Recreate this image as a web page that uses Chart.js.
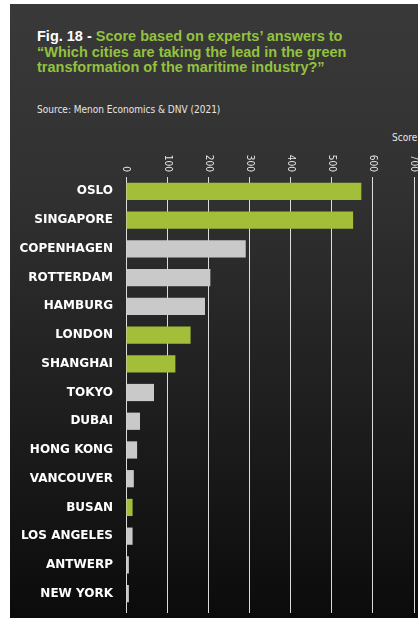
<!DOCTYPE html>
<html>
<head>
<meta charset="utf-8">
<script src="https://cdn.jsdelivr.net/npm/chart.js@4.4.1/dist/chart.umd.min.js"></script>
<style>
  html, body { margin: 0; padding: 0; background: #ffffff; }
  #wrap { position: relative; width: 418px; height: 621px; overflow: hidden; }
  #panel {
    position: absolute; left: 10px; top: 4px; width: 408px; height: 614px;
    background: linear-gradient(to bottom, #393939 0%, #313131 30%, #1c1c1c 70%, #0b0b0b 100%);
  }
  #title {
    position: absolute; left: 37px; top: 29px; margin: 0;
    font: bold 14.5px "Liberation Sans", Arial, sans-serif;
    line-height: 15.5px; color: #93c23e; white-space: nowrap;
  }
  #title .fig { color: #ffffff; }
  #source {
    position: absolute; left: 37px; top: 104px; margin: 0;
    font: 10px "DejaVu Sans Condensed", "Liberation Sans Narrow", sans-serif;
    color: #e6e6e6; white-space: nowrap;
  }
  #unit {
    position: absolute; left: 392px; top: 132px; margin: 0;
    font: 10px "DejaVu Sans Condensed", "Liberation Sans Narrow", sans-serif;
    color: #e6e6e6; white-space: nowrap;
  }
  canvas { position: absolute; left: 0; top: 0; }
</style>
</head>
<body>
<div id="wrap">
  <div id="panel"></div>
  <p id="title"><span class="fig">Fig. 18 - </span>Score based on experts’ answers to<br>“Which cities are taking the lead in the green<br>transformation of the maritime industry?”</p>
  <p id="source">Source: Menon Economics &amp; DNV (2021)</p>
  <p id="unit">Score</p>
  <canvas id="chart" width="418" height="621"></canvas>
</div>
<script>
// Cities, ranked by expert score
const cities = ['OSLO', 'SINGAPORE', 'COPENHAGEN', 'ROTTERDAM', 'HAMBURG', 'LONDON', 'SHANGHAI',
  'TOKYO', 'DUBAI', 'HONG KONG', 'VANCOUVER', 'BUSAN', 'LOS ANGELES', 'ANTWERP', 'NEW YORK'];
const scores = [572, 552, 291, 205, 192, 157, 120, 68, 34, 27, 19, 16, 16, 7, 7];
// Cities shown in the highlight colour
const highlighted = ['OSLO', 'SINGAPORE', 'LONDON', 'SHANGHAI', 'BUSAN'];
// Score axis ticks
const scoreTicks = [0, 100, 200, 300, 400, 500, 600, 700];

const GREEN = '#a3be38';
const GREY = '#c9c9c9';
const GRID = 'rgba(235,235,235,0.92)';

const setTicks = (scale) => { scale.ticks = scoreTicks.map(v => ({ value: v })); };

// Vertical score labels above the plot, reading top to bottom
const topLabels = {
  id: 'topLabels',
  afterDraw(chart) {
    const s = chart.scales.x;
    const ctx = chart.ctx;
    ctx.save();
    ctx.font = '10px "DejaVu Sans Condensed", "Liberation Sans Narrow", sans-serif';
    ctx.fillStyle = '#e6e6e6';
    ctx.textAlign = 'right';
    ctx.textBaseline = 'middle';
    scoreTicks.forEach(v => {
      ctx.save();
      ctx.translate(s.getPixelForValue(v), chart.chartArea.top - 5);
      ctx.rotate(Math.PI / 2);
      ctx.fillText(String(v), 0, 0);
      ctx.restore();
    });
    ctx.restore();
  }
};

new Chart(document.getElementById('chart'), {
  type: 'bar',
  data: {
    labels: cities,
    datasets: [{
      data: scores,
      backgroundColor: cities.map(c => highlighted.includes(c) ? GREEN : GREY),
      borderWidth: 0,
      barPercentage: 0.6,
      categoryPercentage: 1.0
    }]
  },
  options: {
    indexAxis: 'y',
    responsive: false,
    animation: false,
    layout: { padding: { top: 177, right: 4, bottom: 8, left: 0 } },
    plugins: { legend: { display: false }, tooltip: { enabled: false } },
    scales: {
      x: {
        position: 'top',
        min: 0, max: 700,
        afterBuildTicks: setTicks,
        afterFit(scale) { scale.height = 0; },
        ticks: { display: false },
        grid: { color: GRID, lineWidth: 1, drawTicks: false },
        border: { display: false }
      },
      xEnd: {
        axis: 'x',
        type: 'linear',
        position: 'bottom',
        min: 0, max: 700,
        afterBuildTicks: setTicks,
        afterFit(scale) { scale.height = 5; },
        ticks: { display: false },
        grid: { color: GRID, lineWidth: 1, drawOnChartArea: false, drawTicks: true, tickLength: 5 },
        border: { display: false }
      },
      y: {
        afterFit(scale) {
          scale.width = 126;
          scale.paddingTop = 0;
          scale.paddingBottom = 0;
        },
        ticks: {
          color: '#ffffff',
          padding: 13,
          font: { family: '"DejaVu Sans", sans-serif', weight: 'bold', size: 12 }
        },
        grid: { display: false, drawTicks: false },
        border: { display: false }
      }
    }
  },
  plugins: [topLabels]
});
</script>
</body>
</html>
